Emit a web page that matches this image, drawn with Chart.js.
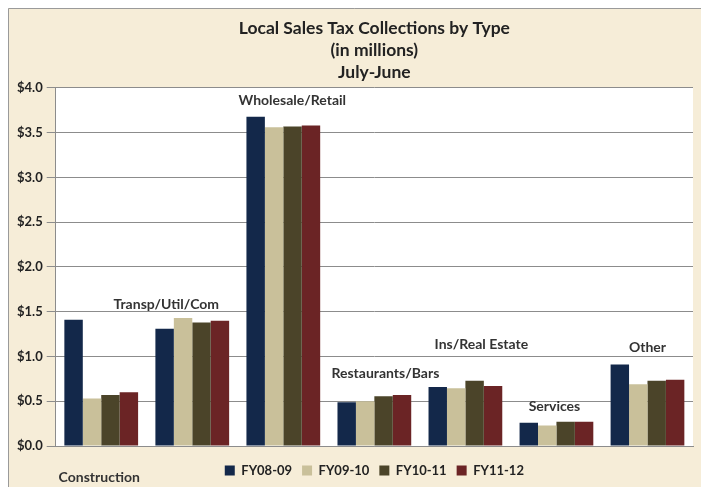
<!DOCTYPE html>
<html>
<head>
<meta charset="utf-8">
<script src="https://cdn.jsdelivr.net/npm/chart.js@4.4.1/dist/chart.umd.min.js"></script>
<style>
  html, body { margin: 0; padding: 0; background: #fff; }
  #wrap { width: 701px; height: 487px; position: relative; }
</style>
</head>
<body>
<div id="wrap"><canvas id="c" width="701" height="487"></canvas></div>
<script>
// --- DATA ---
const categories = ['Construction', 'Transp/Util/Com', 'Wholesale/Retail', 'Restaurants/Bars', 'Ins/Real Estate', 'Services', 'Other'];
const fy0809 = [1.41, 1.31, 3.68, 0.49, 0.66, 0.26, 0.91];
const fy0910 = [0.53, 1.43, 3.56, 0.50, 0.645, 0.23, 0.69];
const fy1011 = [0.57, 1.38, 3.57, 0.555, 0.73, 0.27, 0.73];
const fy1112 = [0.60, 1.40, 3.58, 0.57, 0.67, 0.27, 0.74];
const seriesNames = ['FY08-09', 'FY09-10', 'FY10-11', 'FY11-12'];
const yTicks = [0, 0.5, 1, 1.5, 2, 2.5, 3, 3.5, 4];

// placement of the category text boxes (px offsets, style only)
const labelShift = [
    { dx: -2, dy: 0, below: true },
    { dx: -26, dy: -14 },
    { dx: 9, dy: -16 },
    { dx: 11, dy: -21 },
    { dx: 16, dy: -36 },
    { dx: -2, dy: -15 },
    { dx: 0, dy: -17 }
];

const colors = ['#13284a', '#c9c09a', '#4b4429', '#6b2425'];
const FONT = 'Lato, "Open Sans", sans-serif';

// fond parchemin + zone de tracé blanche
const backdrop = {
    id: 'backdrop',
    beforeDraw(chart) {
        const ctx = chart.ctx, a = chart.chartArea;
        ctx.save();
        ctx.fillStyle = '#ffffff';
        ctx.fillRect(0, 0, chart.width, chart.height);
        ctx.fillStyle = '#f6edd8';
        ctx.fillRect(8, 8, chart.width, chart.height);
        ctx.strokeStyle = '#9a9a9a';
        ctx.lineWidth = 1;
        ctx.beginPath();
        ctx.moveTo(8.5, chart.height);
        ctx.lineTo(8.5, 8.5);
        ctx.lineTo(chart.width, 8.5);
        ctx.stroke();
        ctx.fillStyle = '#ffffff';
        ctx.fillRect(a.left, a.top, a.right - a.left, a.bottom - a.top);
        ctx.restore();
    }
};

// category names written near each group
const catLabels = {
    id: 'catLabels',
    afterDatasetsDraw(chart) {
        const ctx = chart.ctx;
        const x = chart.scales.x, y = chart.scales.y;
        ctx.save();
        ctx.font = 'bold 14px ' + FONT;
        ctx.fillStyle = '#333';
        ctx.textAlign = 'center';
        ctx.textBaseline = 'middle';
        categories.forEach((name, i) => {
            const s = labelShift[i];
            const top = Math.max(fy0809[i], fy0910[i], fy1011[i], fy1112[i]);
            const px = x.getPixelForValue(i) + s.dx;
            const py = s.below ? y.getPixelForValue(0) + 31 : y.getPixelForValue(top) + s.dy;
            ctx.fillText(name, px, py);
        });
        ctx.restore();
    }
};

const allSeries = [fy0809, fy0910, fy1011, fy1112];

new Chart(document.getElementById('c'), {
    type: 'bar',
    data: {
        labels: categories,
        datasets: allSeries.map((d, i) => ({
            label: seriesNames[i],
            data: d,
            backgroundColor: colors[i],
            borderWidth: 0,
            categoryPercentage: 0.81,
            barPercentage: 1.0
        }))
    },
    options: {
        responsive: false,
        animation: false,
        layout: { padding: { left: 13, right: 8, top: 10, bottom: 0 } },
        plugins: {
            title: {
                display: true,
                fullSize: false,
                text: ['Local Sales Tax Collections by Type', '(in millions)', 'July-June'],
                color: '#222',
                font: { family: FONT, size: 17.5, weight: 'bold', lineHeight: 1.257 },
                padding: { top: 7, bottom: 5 }
            },
            legend: {
                position: 'bottom',
                fullSize: false,
                labels: {
                    boxWidth: 10,
                    boxHeight: 10,
                    padding: 10,
                    color: '#222',
                    font: { family: FONT, size: 13, weight: 'bold' }
                }
            },
            tooltip: { enabled: false }
        },
        scales: {
            x: {
                grid: { display: false, drawTicks: false },
                border: { display: true, color: '#8c8c8c' },
                ticks: { display: false },
                afterFit(axis) { axis.height = 8; }
            },
            y: {
                min: 0,
                max: 4,
                afterBuildTicks(axis) { axis.ticks = yTicks.map(v => ({ value: v })); },
                grid: { color: '#8c8c8c', tickLength: 9, tickColor: '#8c8c8c' },
                border: { color: '#8c8c8c' },
                ticks: {
                    color: '#222',
                    padding: 4,
                    font: { family: FONT, size: 13, weight: 'bold' },
                    callback: v => '$' + Number(v).toFixed(1)
                }
            }
        }
    },
    plugins: [backdrop, catLabels]
});
</script>
</body>
</html>
